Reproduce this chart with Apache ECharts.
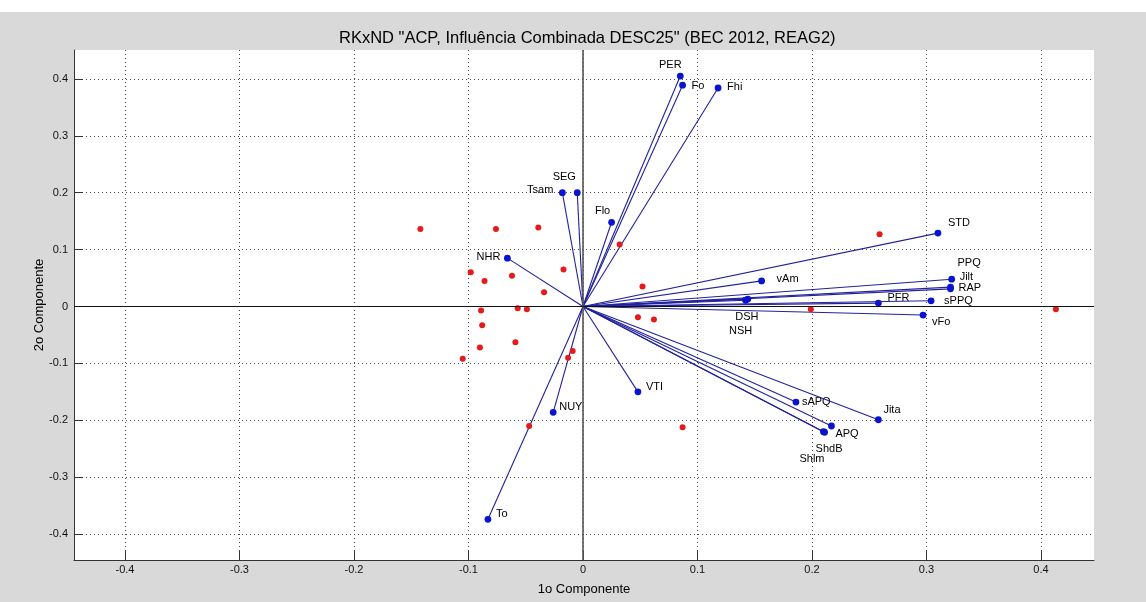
<!DOCTYPE html>
<html>
<head>
<meta charset="utf-8">
<script src="https://cdn.jsdelivr.net/npm/echarts@6/dist/echarts.min.js"></script>
<style>
html, body { margin: 0; padding: 0; background: #d9d9d9; }
#chart { width: 1146px; height: 602px; }
</style>
</head>
<body>
<div id="chart"></div>
<script>
// Variable loadings on the first two principal components
const varNames = ['PER', 'Fo', 'Fhi', 'Tsam', 'SEG', 'Flo', 'NHR', 'VTI', 'NUY', 'To',
  'STD', 'PPQ', 'Jilt', 'RAP', 'PFR', 'sPPQ', 'vFo', 'vAm', 'DSH', 'NSH',
  'sAPQ', 'Jita', 'APQ', 'ShdB', 'Shlm'];
const varX = [0.085, 0.087, 0.118, -0.018, -0.005, 0.025, -0.066, 0.048, -0.026, -0.083,
  0.310, 0.321, 0.322, 0.321, 0.258, 0.304, 0.297, 0.156, 0.144, 0.142,
  0.186, 0.258, 0.217, 0.211, 0.210];
const varY = [0.405, 0.389, 0.384, 0.200, 0.200, 0.148, 0.085, -0.150, -0.186, -0.374,
  0.129, 0.034, 0.048, 0.031, 0.006, 0.010, -0.015, 0.045, 0.013, 0.011,
  -0.168, -0.199, -0.210, -0.221, -0.220];

// Observation scores
const obsX = [-0.142, -0.076, -0.039, -0.098, -0.086, -0.062, -0.017, -0.034, -0.089, -0.057,
  -0.049, -0.088, -0.059, -0.090, -0.105, -0.009, -0.013, -0.047, 0.087, 0.032,
  0.052, 0.048, 0.062, 0.259, 0.199, 0.413];
const obsY = [0.136, 0.136, 0.139, 0.060, 0.045, 0.054, 0.065, 0.025, -0.007, -0.003,
  -0.005, -0.033, -0.063, -0.072, -0.092, -0.078, -0.090, -0.210, -0.212, 0.109,
  0.035, -0.019, -0.023, 0.127, -0.005, -0.005];

const xTicks = [-0.4, -0.3, -0.2, -0.1, 0, 0.1, 0.2, 0.3, 0.4];
const yTicks = [-0.4, -0.3, -0.2, -0.1, 0, 0.1, 0.2, 0.3, 0.4];

// Pixel offsets of each variable name from its vector tip: [dx, dy, align]
const labelPlace = {
  PER: [-10, -11, 'center'], Fo: [9, 1, 'left'], Fhi: [9, -1, 'left'],
  Tsam: [-9, -3, 'right'], SEG: [-13, -16, 'center'], Flo: [-9, -11, 'center'],
  NHR: [-7, -1, 'right'], VTI: [8, -5, 'left'], NUY: [6, -5, 'left'], To: [8, -5, 'left'],
  STD: [10, -10, 'left'], PPQ: [7, -24, 'left'], Jilt: [8, -2, 'left'], RAP: [8, -1, 'left'],
  PFR: [9, -5, 'left'], sPPQ: [13, 0, 'left'], vFo: [9, 7, 'left'], vAm: [15, -2, 'left'],
  DSH: [-1, 18, 'center'], NSH: [-5, 31, 'center'], sAPQ: [6, 0, 'left'],
  Jita: [5, -10, 'left'], APQ: [4, 8, 'left'], ShdB: [-9, 17, 'left'], Shlm: [-24, 27, 'left']
};

const FONT = '"Liberation Sans", Arial, sans-serif';
const chart = echarts.init(document.getElementById('chart'), null, { renderer: 'canvas' });

const vectorData = varNames.map((n, i) => [varX[i], varY[i], i]);
const obsData = obsX.map((x, i) => [x, obsY[i]]);

const gridLine = { show: true, lineStyle: { color: '#4a4a4a', width: 1, type: [1, 3] } };
const tickFmt = v => (Math.abs(v) < 1e-9 ? '0' : String(+v.toFixed(1)));

chart.setOption({
  backgroundColor: '#d9d9d9',
  animation: false,
  title: {
    text: 'RKxND "ACP, Influência Combinada DESC25" (BEC 2012, REAG2)',
    left: 334, top: 25,
    textStyle: { fontFamily: FONT, fontSize: 16.5, fontWeight: 'normal', color: '#000' }
  },
  graphic: [
    { type: 'rect', left: 0, top: 0, shape: { width: 1146, height: 12 }, style: { fill: '#ffffff' }, silent: true }
  ],
  grid: { left: 74, right: 52, top: 50, bottom: 42, show: true, backgroundColor: '#ffffff', borderWidth: 0 },
  xAxis: {
    type: 'value', min: -0.4445, max: 0.4463,
    name: '1o Componente', nameLocation: 'middle', nameGap: 23, nameMoveOverlap: false,
    nameTextStyle: { fontFamily: FONT, fontSize: 13, color: '#000' },
    axisLine: { onZero: false, lineStyle: { color: '#333', width: 1 } },
    axisTick: { inside: true, length: 9, customValues: xTicks, lineStyle: { color: '#333' } },
    axisLabel: { customValues: xTicks, margin: 4, fontFamily: FONT, fontSize: 11, color: '#111', formatter: tickFmt },
    splitLine: gridLine
  },
  yAxis: {
    type: 'value', min: -0.4455, max: 0.4508,
    name: '2o Componente', nameLocation: 'middle', nameGap: 28, nameRotate: 90, nameMoveOverlap: false,
    nameTextStyle: { fontFamily: FONT, fontSize: 13, color: '#000' },
    axisLine: { show: true, onZero: false, lineStyle: { color: '#333', width: 1 } },
    axisTick: { show: true, inside: true, length: 9, customValues: yTicks, lineStyle: { color: '#333' } },
    axisLabel: { customValues: yTicks, margin: 6, fontFamily: FONT, fontSize: 11, color: '#111', formatter: tickFmt },
    splitLine: gridLine
  },
  series: [
    {
      // zero reference lines through the origin
      type: 'line', data: [], silent: true,
      markLine: {
        silent: true, symbol: 'none', label: { show: false },
        data: [
          { xAxis: 0, lineStyle: { color: '#555', width: 1.6, type: 'solid' } },
          { yAxis: 0, lineStyle: { color: '#111', width: 1.2, type: 'solid' } }
        ]
      }
    },
    {
      type: 'custom', z: 3,
      data: vectorData,
      renderItem: function (params, api) {
        const i = api.value(2);
        const o = api.coord([0, 0]);
        const p = api.coord([api.value(0), api.value(1)]);
        const name = varNames[i];
        const lp = labelPlace[name];
        return {
          type: 'group',
          children: [
            { type: 'line', shape: { x1: o[0], y1: o[1], x2: p[0], y2: p[1] },
              style: { stroke: '#22229a', lineWidth: 1.1 } },
            { type: 'circle', shape: { cx: p[0], cy: p[1], r: 3.4 },
              style: { fill: '#0a14d0' } },
            { type: 'text', x: p[0] + lp[0], y: p[1] + lp[1],
              style: { text: name, fill: '#000', font: '11px ' + FONT,
                align: lp[2], verticalAlign: 'middle' } }
          ]
        };
      }
    },
    {
      type: 'scatter', z: 4,
      data: obsData,
      symbol: 'circle', symbolSize: 6,
      itemStyle: { color: '#e61a1a', opacity: 1 }
    }
  ]
});
</script>
</body>
</html>
